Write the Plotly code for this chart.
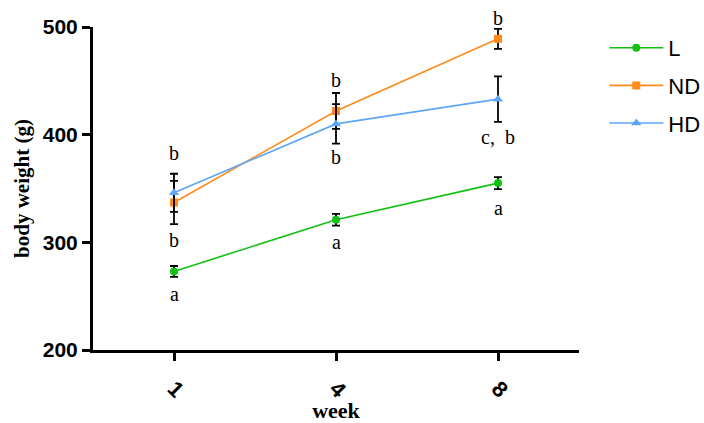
import plotly.graph_objects as go

weeks = ["1", "4", "8"]
L_mean = [273, 321, 355]
L_err = [5, 5.5, 5.5]
ND_mean = [337, 422, 489]
ND_err = [20, 16.7, 9.3]
HD_mean = [346, 410, 433]
HD_err = [17.7, 18.4, 21.2]

letters_text = ["b", "b", "a", "b", "b", "a", "b", "c,\u00a0\u00a0b", "a"]
letters_week = ["1", "1", "1", "4", "4", "4", "8", "8", "8"]
letters_y = [383, 302, 252, 451, 379, 300, 508, 398, 332]

y_min, y_max = 200, 500

green = "#12c012"
orange = "#ff8a1c"
blue = "#5ea6f5"

fig = go.Figure()

def add(name, y, err, color, symbol, msize):
    fig.add_trace(go.Scatter(
        x=weeks, y=y, name=name, mode="lines+markers", legendgroup=name,
        line=dict(color=color, width=1.6),
        marker=dict(color=color, symbol=symbol, size=msize),
        error_y=dict(type="data", array=err, visible=True, color="black", thickness=1.8, width=4),
    ))

add("L", L_mean, L_err, green, "circle", 8)
add("ND", ND_mean, ND_err, orange, "square", 8)
add("HD", HD_mean, HD_err, blue, "triangle-up", 9)

for t, w, y in zip(letters_text, letters_week, letters_y):
    fig.add_annotation(x=weeks.index(w), y=(y - y_min) / (y_max - y_min), text=t,
                       showarrow=False, xref="x", yref="paper",
                       xanchor="center", yanchor="middle",
                       font=dict(family="Liberation Serif, Times New Roman, serif", size=20, color="black"))

fig.update_layout(
    width=704, height=423,
    margin=dict(l=93, r=125, t=27, b=73, autoexpand=False),
    paper_bgcolor="white", plot_bgcolor="white",
    showlegend=True,
    legend=dict(x=1.052, y=1.0, xanchor="left", yanchor="top",
                font=dict(family="Liberation Sans, Arial, sans-serif", size=22, color="black"),
                bgcolor="rgba(0,0,0,0)", tracegroupgap=6, itemwidth=54),
    xaxis=dict(
        type="category", range=[-0.5, 2.5], automargin=True,
        showline=True, linecolor="black", linewidth=3,
        ticks="outside", ticklen=8, tickwidth=3, tickcolor="black",
        tickangle=45, showgrid=False, zeroline=False, ticklabelstandoff=6,
        tickfont=dict(family="Liberation Sans, Arial, sans-serif", size=22, color="black", weight="bold"),
        title=dict(text="<b>week</b>", standoff=6,
                   font=dict(family="Liberation Serif, Times New Roman, serif", size=22, color="black")),
    ),
    yaxis=dict(
        range=[y_min, y_max], tickvals=[200, 300, 400, 500], automargin=False,
        showline=True, linecolor="black", linewidth=3,
        ticks="outside", ticklen=8, tickwidth=3, tickcolor="black",
        showgrid=False, zeroline=False,
        tickfont=dict(family="Liberation Sans, Arial, sans-serif", size=21, color="black", weight="bold"),
        title=dict(text="<b>body weight (g)</b>", standoff=8,
                   font=dict(family="Liberation Serif, Times New Roman, serif", size=21, color="black")),
    ),
)

fig.write_html("out.html")
